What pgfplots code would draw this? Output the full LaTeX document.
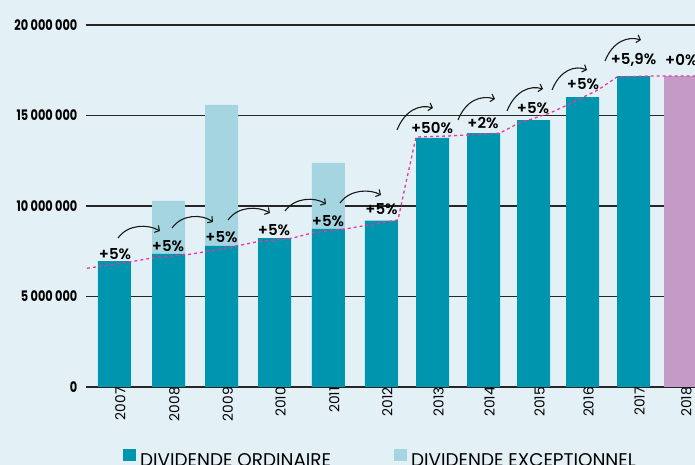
\documentclass[border=0pt]{standalone}
\usepackage{fontspec}
\setmainfont{Poppins}
\newfontfamily\condfont[FakeStretch=0.78]{Poppins}
\newfontfamily\labfont{Poppins SemiBold}
\usepackage{pgfplots}
\pgfplotsset{compat=1.18}
\usetikzlibrary{arrows.meta}
\definecolor{bgc}{HTML}{E3F1F7}
\definecolor{tealc}{HTML}{0095AE}
\definecolor{lightc}{HTML}{A5D5E0}
\definecolor{purplec}{HTML}{C49AC6}
\definecolor{pinkc}{HTML}{E5399E}
\begin{document}
\begin{tikzpicture}
\fill[bgc] (0,0) rectangle (695pt,465pt);
\begin{axis}[
  at={(86pt,78pt)}, anchor=south west, scale only axis,
  width=609pt, height=362pt,
  xmin=86, xmax=695, ymin=0, ymax=20000000,
  axis line style={draw=none}, major tick length=0pt,
  scaled y ticks=false,
  ytick={0,5000000,10000000,15000000,20000000},
  yticklabels={0,5 000 000,10 000 000,15 000 000,20 000 000},
  yticklabel style={font=\condfont\bfseries\fontsize{14.5}{15}\selectfont, anchor=east, inner sep=0pt, xshift=-8.5pt},
  xtick={114.3,168.5,221.7,274.5,328.3,381.3,432.5,483.5,533.5,582.5,633.5,680.5},
  xticklabels={2007,2008,2009,2010,2011,2012,2013,2014,2015,2016,2017,2018},
  xticklabel style={rotate=90, anchor=east, inner sep=0pt, yshift=-6pt, font=\fontsize{13.8}{15}\selectfont},
  ymajorgrids, grid style={black!85, line width=1.3pt},
  ybar, bar width=33,
  clip=true,
]
\addplot[fill=lightc, draw=none, bar shift=0pt] coordinates {(168.5,10280000) (221.7,15580000) (328.3,12380000)};
\addplot[fill=tealc, draw=none, bar shift=0pt] coordinates {
(114.3,6950000) (168.5,7350000) (221.7,7800000) (274.5,8230000) (328.3,8730000)
(381.3,9190000) (432.5,13760000) (483.5,14030000) (533.5,14750000) (582.5,16020000) (633.5,17180000)};
\addplot[fill=purplec, draw=none, bar shift=0pt] coordinates {(680.5,17180000)};
\addplot[sharp plot, draw=pinkc, line width=1.3pt, dash pattern=on 3pt off 3pt, no markers, forget plot] coordinates {
(87,6560000) (131,6920000) (152,7130000) (185,7290000) (205,7470000) (238,7810000)
(258,8030000) (292,8220000) (312,8510000) (345,8730000) (398,9230000) (405,11050000)
(411,12540000) (416,13810000) (449,13870000) (500,14030000) (517,14530000) (550,15140000)
(565,15520000) (598,16410000) (617,17130000) (650,17180000) (695,17180000)};
\end{axis}
\begin{scope}[x=1pt, y=-1pt, yshift=465pt]
\clip (0,0) rectangle (695,465);
% percentage labels
\begin{scope}[every node/.style={font=\labfont\fontsize{15}{16}\selectfont, inner sep=0pt}]
\node at (115,254) {+5\%};
\node at (168,246) {+5\%};
\node at (221.5,237.5) {+5\%};
\node at (274,230) {+5\%};
\node at (328,221.5) {+5\%};
\node at (381.5,209) {+5\%};
\node at (432,128) {+50\%};
\node at (483,123) {+2\%};
\node at (533,108) {+5\%};
\node at (583,84) {+5\%};
\node at (633.5,60) {+5,9\%};
\node[anchor=west] at (665,60) {+0\%};
\end{scope}
% arrows
\begin{scope}[line width=1.1pt, black!90, -{Straight Barb[length=3.5pt,width=8pt]}]
\draw (118,238) .. controls (128,224) and (148,224) .. (160,231);
\draw (172,228) .. controls (182,214) and (202,214) .. (213,222);
\draw (228,220) .. controls (238,206) and (258,206) .. (270,213);
\draw (285,211) .. controls (295,197) and (315,197) .. (326,204);
\draw (340,203) .. controls (350,189) and (370,189) .. (381,195);
\draw (397,130) .. controls (405,110) and (420,104) .. (433,108);
\draw (458,120) .. controls (466,100) and (481,95) .. (495,99);
\draw (507,111) .. controls (515,91) and (530,85) .. (543,89);
\draw (552,90) .. controls (560,70) and (575,65) .. (587,70);
\draw (605,61) .. controls (613,41) and (628,36) .. (641,40);
\end{scope}
% legend
\fill[tealc] (123,449) rectangle (136,461);
\node[anchor=base west, inner sep=0pt, font=\fontsize{18.4}{19}\selectfont] at (140,466.5) {DIVIDENDE ORDINAIRE};
\fill[lightc] (394,449) rectangle (407,461);
\node[anchor=base west, inner sep=0pt, font=\fontsize{18.4}{19}\selectfont] at (411,466.5) {DIVIDENDE EXCEPTIONNEL};
\end{scope}
\pgfresetboundingbox
\path[use as bounding box] (0,0) rectangle (695pt,465pt);
\end{tikzpicture}
\end{document}
